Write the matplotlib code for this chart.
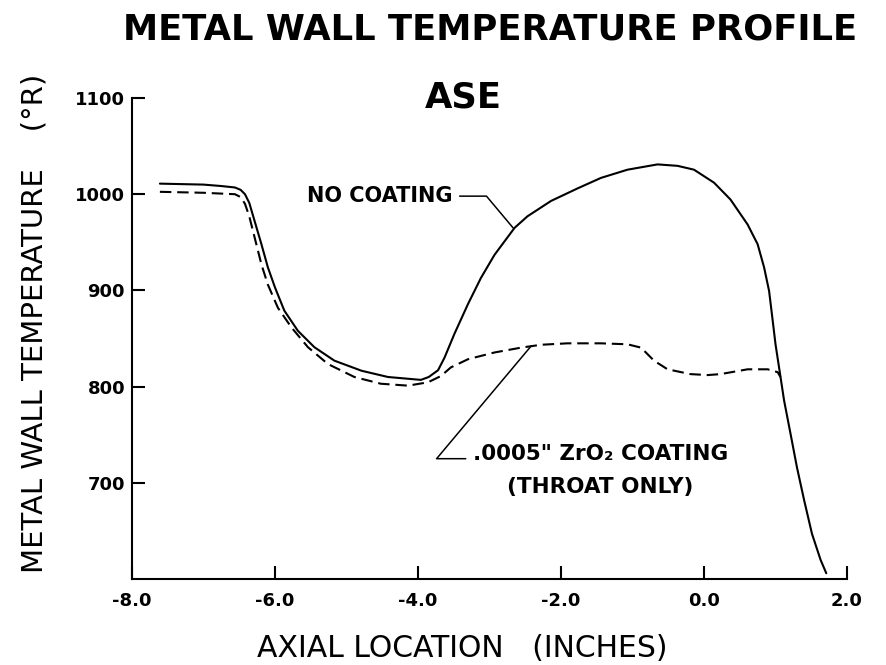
import matplotlib
matplotlib.use('Agg')
import matplotlib.pyplot as plt

# values (axial location in inches, temperature in deg R)
x_bare = [-7.61, -7.0, -6.75, -6.56, -6.48, -6.42, -6.36, -6.285, -6.19, -6.10,
          -6.0, -5.87, -5.68, -5.45, -5.17, -4.79, -4.42, -3.96, -3.85, -3.72,
          -3.63, -3.49, -3.30, -3.12, -2.93, -2.65, -2.47, -2.14, -1.77, -1.44,
          -1.07, -0.65, -0.37, -0.14, 0.14, 0.37, 0.61, 0.75, 0.84, 0.91,
          0.955, 1.0, 1.07, 1.12, 1.21, 1.30, 1.40, 1.51, 1.63, 1.71]
t_bare = [1011, 1010, 1008.5, 1007, 1004.5, 1000, 991, 972, 948, 924,
          903, 879, 858, 841, 827, 816.5, 810, 807, 810, 817,
          830, 855, 886, 913, 937, 965, 977, 993, 1006, 1017,
          1025.5, 1031, 1029.5, 1025.5, 1012, 994.5, 968.5, 948, 924, 899.5,
          872, 844, 810, 785.5, 751, 716, 682, 647, 620, 606]

x_coat = [-7.61, -7.0, -6.56, -6.48, -6.42, -6.36, -6.285, -6.19, -6.10, -5.96,
          -5.77, -5.54, -5.26, -4.89, -4.52, -4.14, -3.86, -3.68, -3.54, -3.30,
          -2.93, -2.56, -2.28, -1.91, -1.44, -1.07, -0.88, -0.70, -0.51, -0.19,
          0.05, 0.23, 0.61, 0.89, 1.03, 1.07]
t_coat = [1002.5, 1001.5, 1000, 997, 990, 977, 955, 927, 906, 882,
          861.5, 841, 823.5, 810, 803, 801, 804.5, 811, 820, 828.5,
          835.5, 840.5, 843.5, 845, 845, 844, 840.5, 827, 818, 813,
          812, 813, 818, 818, 815, 810]

x_ticks = [-8.0, -6.0, -4.0, -2.0, 0.0, 2.0]
y_ticks = [700, 800, 900, 1000, 1100]

plt.rcParams['font.family'] = ['DejaVu Sans']
plt.rcParams['axes.unicode_minus'] = False

fig = plt.figure(figsize=(8.86, 6.65), dpi=100, facecolor='white')
ax = fig.add_axes([0.149, 0.1293, 0.807, 0.7233])

ax.plot(x_bare, t_bare, color='black', lw=1.5, solid_capstyle='round')
ax.plot(x_coat, t_coat, color='black', lw=1.5, linestyle=(0, (5.5, 2.8)))

ax.set_xlim(-8, 2)
ax.set_ylim(600, 1100)
ax.set_xticks(x_ticks)
ax.set_xticklabels(['%.1f' % v for v in x_ticks])
ax.set_yticks(y_ticks)

ax.spines['top'].set_visible(False)
ax.spines['right'].set_visible(False)
ax.spines['left'].set_linewidth(1.5)
ax.spines['bottom'].set_linewidth(1.5)
ax.tick_params(direction='in', length=9.5, width=1.5, labelsize=13)
ax.tick_params(axis='x', pad=9)
ax.tick_params(axis='y', pad=5)
for lab in ax.get_xticklabels() + ax.get_yticklabels():
    lab.set_fontweight('bold')

ax.set_xlabel('AXIAL LOCATION   (INCHES)', fontsize=21.5)
ax.xaxis.set_label_coords(0.462, -0.114)
ax.set_ylabel('METAL WALL TEMPERATURE    (\u00b0R)', fontsize=21)
ax.yaxis.set_label_coords(-0.117, 0.531)

# title, two lines
fig.text(0.553, 1 - 39 / 665, 'METAL WALL TEMPERATURE PROFILE', ha='center',
         va='baseline', fontsize=25.5, fontweight='bold')
fig.text(0.523, 1 - 107 / 665, 'ASE', ha='center', va='baseline',
         fontsize=25.5, fontweight='bold')

# leader-line labels
ax.annotate('NO COATING', xy=(-2.67, 965), xytext=(-5.55, 998),
            ha='left', va='center', fontsize=15, fontweight='bold',
            arrowprops=dict(arrowstyle='-', lw=1.1, color='black',
                            shrinkA=3, shrinkB=0,
                            connectionstyle='angle,angleA=0,angleB=130,rad=0'))
ax.annotate('.0005" ZrO\u2082 COATING\n(THROAT ONLY)', xy=(-2.42, 842),
            xytext=(-3.235, 713), ha='left', va='center', fontsize=15.5,
            fontweight='bold', multialignment='center', linespacing=1.8,
            arrowprops=dict(arrowstyle='-', lw=1.1, color='black',
                            shrinkA=3, shrinkB=0, relpos=(0, 0.72),
                            connectionstyle='angle,angleA=0,angleB=50,rad=0'))

fig.savefig('out.png', dpi=100)
